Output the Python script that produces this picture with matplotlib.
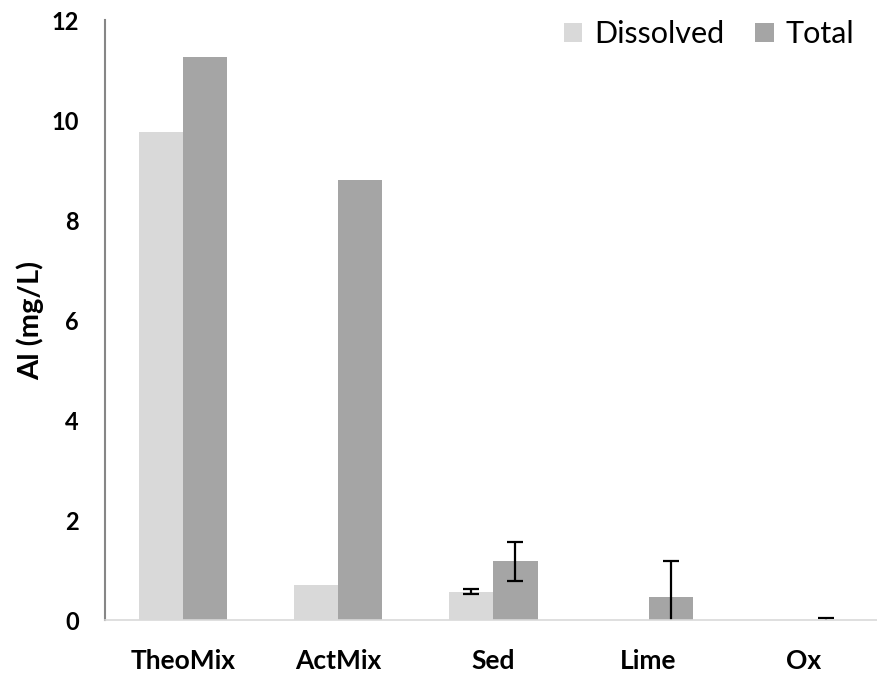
import numpy as np
import matplotlib
matplotlib.use("Agg")
import matplotlib.pyplot as plt

# Al concentrations per treatment (mg/L)
categories = ["TheoMix", "ActMix", "Sed", "Lime", "Ox"]
dissolved = [9.76, 0.70, 0.57, 0.0, 0.0]
dissolved_err = [0.0, 0.0, 0.05, 0.0, 0.0]
total = [11.26, 8.80, 1.18, 0.46, 0.0]
total_err = [0.0, 0.0, 0.39, 0.72, 0.05]

plt.rcParams['font.family'] = ['Lato', 'DejaVu Sans']

fig = plt.figure(figsize=(8.77, 6.78), dpi=100)
ax = fig.add_axes([0.12, 0.0855, 0.885, 0.885])

x = np.arange(len(categories))
w = 0.285

ax.bar(x - w / 2, dissolved, w, color='#D9D9D9', label='Dissolved')
ax.bar(x + w / 2, total, w, color='#A5A5A5', label='Total')

# error bars only where a spread was measured
err_kw = dict(fmt='none', ecolor='black', elinewidth=1.6, capsize=6, capthick=1.6)
for vals, errs, off in [(dissolved, dissolved_err, -w / 2), (total, total_err, w / 2)]:
    for i, (v, e) in enumerate(zip(vals, errs)):
        if e > 0:
            ax.errorbar(i + off, v, yerr=e, **err_kw)

ax.set_xlim(-0.5, 4.5)
ax.set_ylim(0, 12)
ax.set_yticks(np.arange(0, 13, 2))
ax.set_xticks(x)
ax.set_xticklabels(categories, fontsize=19, fontweight='bold')
for lab in ax.get_yticklabels():
    lab.set_fontsize(17)
    lab.set_fontweight('bold')
ax.tick_params(axis='both', length=0)
ax.tick_params(axis='x', pad=21)
ax.tick_params(axis='y', pad=19)

ax.set_ylabel('Al (mg/L)', fontsize=21, fontweight='bold', labelpad=5)

for s in ['top', 'right']:
    ax.spines[s].set_visible(False)
ax.spines['left'].set_color('#868686')
ax.spines['left'].set_linewidth(1.5)
ax.spines['bottom'].set_color('#D9D9D9')
ax.spines['bottom'].set_linewidth(1.2)

ax.legend(loc='upper right', bbox_to_anchor=(0.985, 1.025), ncol=2, frameon=False,
          fontsize=22, handlelength=0.6, handleheight=0.6, handletextpad=0.4,
          columnspacing=1.0, borderpad=0)

fig.savefig('out.png', dpi=100)
